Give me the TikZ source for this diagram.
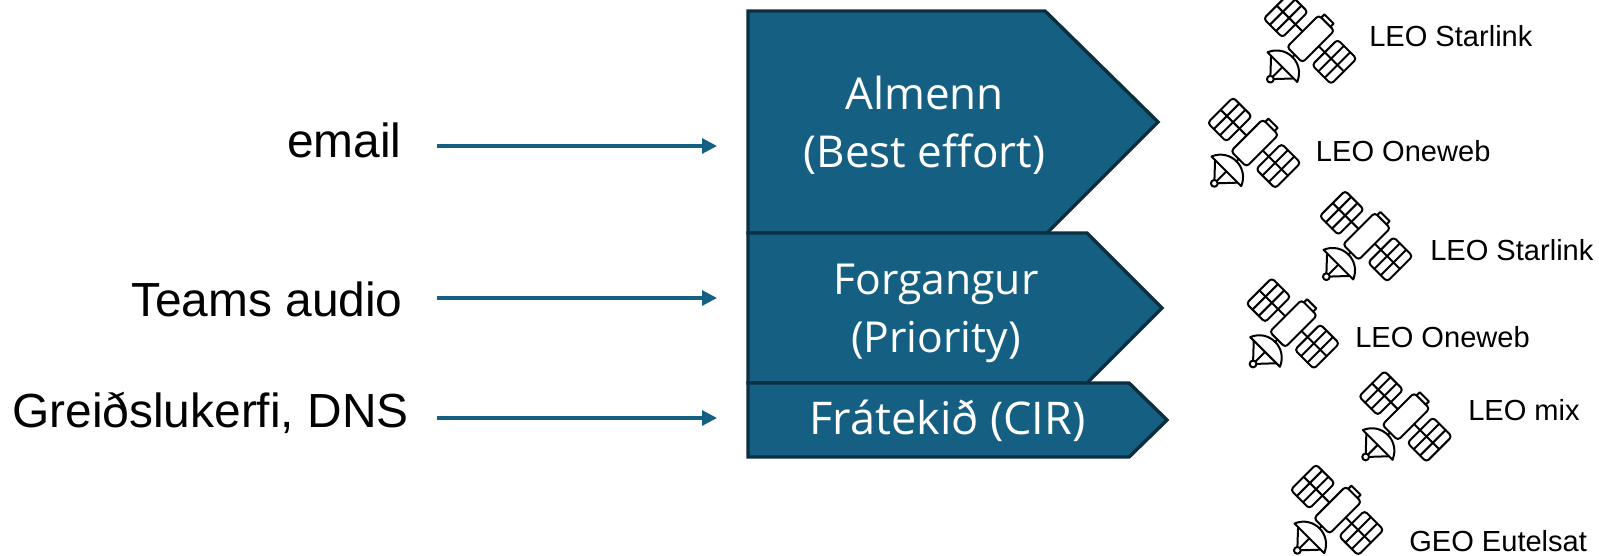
\documentclass[tikz,border=0pt]{standalone}
\usepackage{fontspec}
\setmainfont{Liberation Sans}
\newfontfamily\boxfont{Open Sans}
\usetikzlibrary{arrows.meta}
\definecolor{boxfill}{HTML}{156082}
\definecolor{boxline}{HTML}{0C2F40}
\tikzset{
  x=0.75pt,y=-0.75pt,
  band/.style={fill=boxfill,draw=boxline,line width=2.6pt,miter limit=10},
  bandtext/.style={text=white,anchor=base,inner sep=0pt,font=\boxfont\fontsize{33}{33}\selectfont},
  flow/.style={draw=boxfill,line width=2.3pt,-{Triangle[length=11.25pt,width=11.25pt]}},
  srclabel/.style={anchor=base west,inner sep=0pt,font=\fontsize{35.9}{36}\selectfont},
  satlabel/.style={anchor=base west,inner sep=0pt,font=\fontsize{21.8}{22}\selectfont},
  satline/.style={draw=black,line width=1.5pt,line join=round,line cap=round},
  satellite/.pic={
    \begin{scope}[x=0.75pt,y=0.75pt,rotate=-45]
      % body
      \draw[satline,rounded corners=2.5pt] (-11,-23) rectangle (11,22);
      % top cap
      \draw[satline] (-7.5,22) -- (-7.5,26.5) -- (5.5,26.5) -- (5.5,22);
      % right panel
      \draw[satline,rounded corners=2.5pt] (19.5,-18) rectangle (46.5,18);
      \draw[satline] (11,0) -- (19.5,0);
      \draw[satline] (28.5,-18) -- (28.5,18);
      \draw[satline] (37.5,-18) -- (37.5,18);
      \draw[satline] (19.5,0) -- (46.5,0);
      % left panel
      \draw[satline,rounded corners=2.5pt] (-21,-19.5) rectangle (-47.5,16.5);
      \draw[satline] (-11,-1) -- (-21,-1);
      \draw[satline] (-30,-19.5) -- (-30,16.5);
      \draw[satline] (-38.8,-19.5) -- (-38.8,16.5);
      \draw[satline] (-21,-1) -- (-47.5,-1);
      % dish
      \draw[satline] (0,-23) -- (0,-26.6);
      \draw[satline] (-21,-40.5) .. controls (-13,-21.5) and (13,-21.5) .. (21,-40.5) -- cycle;
      \draw[satline] (0,-57.5) circle[radius=3.4];
      \draw[satline] (0,-54.1) -- (0,-40.5);
      \draw[satline] (-2.4,-55) -- (-16,-40.5);
      \draw[satline] (2.4,-55) -- (16,-40.5);
    \end{scope}
  }
}
\begin{document}
\begin{tikzpicture}
\useasboundingbox (0,0) rectangle (1599,556);
% bands
\draw[band] (748,11) -- (1045,11) -- (1158,122) -- (1047,233) -- (748,233) -- cycle;
\draw[band] (748,233) -- (1087,233) -- (1162,308) -- (1087,383) -- (748,383) -- cycle;
\draw[band] (748,383) -- (1129,383) -- (1167,420) -- (1129,457) -- (748,457) -- cycle;
\node[bandtext] (almenn) at (924.5,110) {Almenn};
\node[bandtext] (best) at (924.5,168) {(Best effort)};
\node[bandtext,font=\boxfont\fontsize{32}{32}\selectfont] (forg) at (936,294) {Forgangur};
\node[bandtext,font=\boxfont\fontsize{32}{32}\selectfont] (prio) at (936,352) {(Priority)};
\node[bandtext,font=\boxfont\fontsize{33.8}{34}\selectfont] (frat) at (947.5,434) {Frátekið (CIR)};
% sources
\node[srclabel] (email) at (287,158) {email};
\node[srclabel] (teams) at (131,316) {Teams audio};
\node[srclabel] (greid) at (12,427) {Greiðslukerfi, DNS};
\coordinate (s1) at (437,146); \coordinate (e1) at (717,146);
\coordinate (s2) at (437,298); \coordinate (e2) at (717,298);
\coordinate (s3) at (437,418); \coordinate (e3) at (717,418);
\draw[flow] (s1) -- (e1);
\draw[flow] (s2) -- (e2);
\draw[flow] (s3) -- (e3);
% satellites
\pic at (1311,38.5) {satellite};
\pic at (1255,142.7) {satellite};
\pic at (1367,236) {satellite};
\pic at (1293.7,323.3) {satellite};
\pic at (1406.3,416.3) {satellite};
\pic at (1338,509.7) {satellite};
\node[satlabel] (l1) at (1369,46.7) {LEO Starlink};
\node[satlabel] (l2) at (1315.7,161.7) {LEO Oneweb};
\node[satlabel] (l3) at (1430,260) {LEO Starlink};
\node[satlabel] (l4) at (1355,347.5) {LEO Oneweb};
\node[satlabel] (l5) at (1468,420.3) {LEO mix};
\node[satlabel] (l6) at (1409,551.3) {GEO Eutelsat};
\end{tikzpicture}
\end{document}
